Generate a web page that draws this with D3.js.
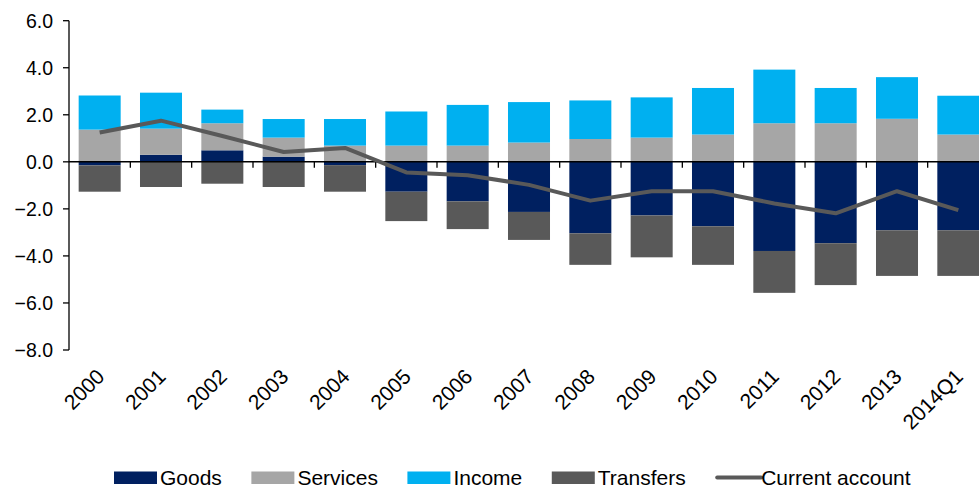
<!DOCTYPE html>
<html>
<head>
<meta charset="utf-8">
<script src="https://cdn.jsdelivr.net/npm/d3@7"></script>
<style>
  body { margin: 0; background: #fff; }
  svg { display: block; font-family: Arial, "Liberation Sans", sans-serif; }
</style>
</head>
<body>
<div class="canvas"></div>
<script>
const years = ["2000", "2001", "2002", "2003", "2004", "2005", "2006", "2007",
  "2008", "2009", "2010", "2011", "2012", "2013", "2014Q1"];
const goods = [-0.15, 0.30, 0.49, 0.22, -0.14, -1.27, -1.68, -2.13, -3.04, -2.28, -2.74, -3.79, -3.46, -2.91, -2.91];
const services = [1.37, 1.11, 1.15, 0.81, 0.69, 0.69, 0.69, 0.82, 0.97, 1.03, 1.16, 1.64, 1.64, 1.83, 1.16];
const income = [1.45, 1.53, 0.58, 0.79, 1.13, 1.45, 1.73, 1.72, 1.64, 1.71, 1.98, 2.28, 1.50, 1.77, 1.65];
const transfers = [-1.12, -1.07, -0.93, -1.07, -1.13, -1.25, -1.18, -1.19, -1.34, -1.78, -1.64, -1.78, -1.78, -1.94, -1.94];
const currentAccount = [1.25, 1.75, 1.10, 0.42, 0.59, -0.45, -0.57, -0.98, -1.65, -1.25, -1.25, -1.77, -2.19, -1.25, -2.05];
const yTicks = [6, 4, 2, 0, -2, -4, -6, -8];

const WIDTH = 979,
  HEIGHT = 489,
  PLOT = { left: 69, right: 989, top: 20.7, bottom: 350 },
  PAD = 0.315,
  COLORS = {
    Goods: "#002060",
    Services: "#A6A6A6",
    Income: "#00B0F0",
    Transfers: "#595959",
    line: "#595959",
  };

const keys = ["Goods", "Services", "Income", "Transfers"];
const rows = years.map((year, i) => ({
  year,
  Goods: goods[i],
  Services: services[i],
  Income: income[i],
  Transfers: transfers[i],
}));

const svg = d3
  .select(".canvas")
  .append("svg")
  .attr("width", WIDTH)
  .attr("height", HEIGHT);

const x = d3
  .scaleBand()
  .domain(years)
  .range([PLOT.left, PLOT.right])
  .paddingInner(PAD)
  .paddingOuter(PAD / 2);

const y = d3.scaleLinear().domain([-8, 6]).range([PLOT.bottom, PLOT.top]);

const series = d3.stack().keys(keys).offset(d3.stackOffsetDiverging)(rows);

// bars
svg
  .append("g")
  .selectAll("g")
  .data(series)
  .join("g")
  .attr("fill", (s) => COLORS[s.key])
  .selectAll("rect")
  .data((s) => s)
  .join("rect")
  .attr("x", (d) => x(d.data.year))
  .attr("width", x.bandwidth())
  .attr("y", (d) => y(Math.max(d[0], d[1])))
  .attr("height", (d) => Math.abs(y(d[0]) - y(d[1])));

// y axis
const yAxis = svg.append("g");
yAxis
  .append("line")
  .attr("x1", PLOT.left)
  .attr("x2", PLOT.left)
  .attr("y1", y(6))
  .attr("y2", y(-8))
  .attr("stroke", "#000")
  .attr("stroke-width", 1.3);
yAxis
  .selectAll("line.tick")
  .data(yTicks)
  .join("line")
  .attr("class", "tick")
  .attr("x1", PLOT.left - 6)
  .attr("x2", PLOT.left)
  .attr("y1", (d) => y(d))
  .attr("y2", (d) => y(d))
  .attr("stroke", "#000")
  .attr("stroke-width", 1.3);
yAxis
  .selectAll("text")
  .data(yTicks)
  .join("text")
  .attr("x", PLOT.left - 16)
  .attr("y", (d) => y(d))
  .attr("dy", "0.35em")
  .attr("text-anchor", "end")
  .attr("font-size", 19.5)
  .attr("fill", "#000")
  .text((d) => d3.format(".1f")(d));

// category axis at zero
const step = x.step();
const gap = step - x.bandwidth();
svg
  .append("line")
  .attr("x1", PLOT.left)
  .attr("x2", WIDTH)
  .attr("y1", y(0))
  .attr("y2", y(0))
  .attr("stroke", "#000")
  .attr("stroke-width", 1.5);
svg
  .append("g")
  .selectAll("line")
  .data(years)
  .join("line")
  .attr("x1", (d) => x(d) + x.bandwidth() + gap / 2)
  .attr("x2", (d) => x(d) + x.bandwidth() + gap / 2)
  .attr("y1", y(0))
  .attr("y2", y(0) + 6)
  .attr("stroke", "#000")
  .attr("stroke-width", 1.3);

// category labels
svg
  .append("g")
  .selectAll("text")
  .data(years)
  .join("text")
  .attr("text-anchor", "end")
  .attr("font-size", 21)
  .attr("fill", "#000")
  .attr("transform", (d) => `translate(${x(d) + x.bandwidth() / 2 + 6}, 378) rotate(-45)`)
  .text((d) => d);

// current account line
const line = d3
  .line()
  .x((d, i) => x(years[i]) + x.bandwidth() / 2)
  .y((d) => y(d));

svg
  .append("path")
  .datum(currentAccount)
  .attr("fill", "none")
  .attr("stroke", COLORS.line)
  .attr("stroke-width", 4)
  .attr("stroke-linejoin", "round")
  .attr("d", line);

// legend
const legendItems = [
  { name: "Goods", type: "rect", color: COLORS.Goods },
  { name: "Services", type: "rect", color: COLORS.Services },
  { name: "Income", type: "rect", color: COLORS.Income },
  { name: "Transfers", type: "rect", color: COLORS.Transfers },
  { name: "Current account", type: "line", color: COLORS.line },
];
const legend = svg.append("g").attr("transform", "translate(114, 477.5)");
let cursor = 0;
legendItems.forEach((item) => {
  const g = legend.append("g").attr("transform", `translate(${cursor}, 0)`);
  if (item.type === "rect") {
    g.append("rect")
      .attr("x", 0)
      .attr("y", -6)
      .attr("width", 43)
      .attr("height", 12.5)
      .attr("fill", item.color);
  } else {
    g.append("line")
      .attr("x1", 2)
      .attr("x2", 46)
      .attr("y1", 0)
      .attr("y2", 0)
      .attr("stroke", item.color)
      .attr("stroke-width", 4)
      .attr("stroke-linecap", "round");
  }
  const t = g
    .append("text")
    .attr("x", 46)
    .attr("y", 0)
    .attr("dy", "0.35em")
    .attr("font-size", 21)
    .attr("fill", "#000")
    .text(item.name);
  cursor += 46 + t.node().getComputedTextLength() + 29.5;
});
</script>
</body>
</html>
